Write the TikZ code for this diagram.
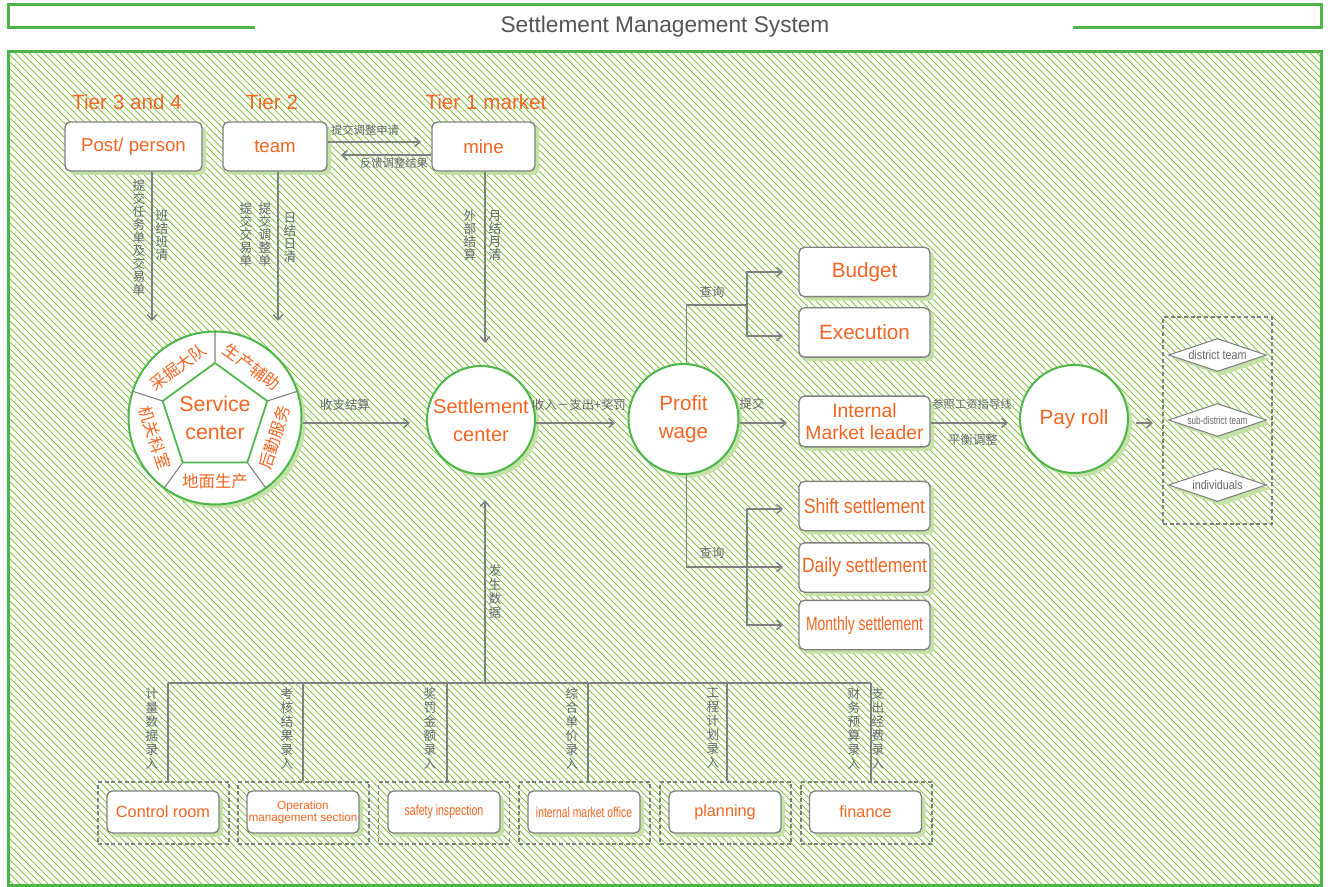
\documentclass[tikz,border=0pt]{standalone}
\usepackage{fontspec}
\setmainfont{Liberation Sans}
\newfontfamily\narrow[FakeStretch=0.85]{Liberation Sans}
\newfontfamily\condfont[FakeStretch=0.72]{Liberation Sans}
\newfontfamily\cjk{Noto Sans CJK SC}
\usetikzlibrary{arrows.meta,shapes.geometric,shadows,calc}
\definecolor{sgreen}{RGB}{76,183,72}
\definecolor{hgreen}{RGB}{136,196,66}
\definecolor{shgreen}{RGB}{196,226,168}
\definecolor{sorange}{RGB}{242,101,34}
\definecolor{sgray}{RGB}{128,128,128}
\definecolor{tgray}{RGB}{105,105,105}
\definecolor{ttlgray}{RGB}{85,85,85}
\tikzset{
  gshadow/.style={drop shadow={shadow xshift=3pt,shadow yshift=-3pt,fill=shgreen,opacity=1}},
  box/.style={draw=sgray,line width=1pt,fill=white,rounded corners=4pt,text=sorange,
    align=center,inner sep=1pt,gshadow,font=\fontsize{14}{16}\selectfont},
  rbox/.style={box,minimum width=98.25pt,minimum height=37pt},
  bbox/.style={box,minimum width=84pt,minimum height=31.5pt,font=\fontsize{12.2}{14}\selectfont},
  dbox/.style={draw=sgray,line width=0.8pt,dash pattern=on 3pt off 2pt,minimum width=98.25pt,minimum height=46.5pt},
  circ/.style={circle,draw=sgreen,line width=1.5pt,fill=white,text=sorange,align=center,
    inner sep=0pt,gshadow,font=\fontsize{15.5}{21}\selectfont},
  dia/.style={diamond,aspect=3,draw=sgray,line width=0.8pt,fill=white,inner sep=0pt,
    minimum width=73.5pt,minimum height=24.75pt,text=tgray,gshadow},
  tier/.style={text=sorange,font=\fontsize{15.5}{18}\selectfont,inner sep=0pt},
  lab/.style={text=tgray,font=\cjk\fontsize{9.3}{10}\selectfont,inner sep=1pt},
  slab/.style={lab,font=\cjk\fontsize{8.5}{10}\selectfont},
  vlab/.style={text=tgray,font=\cjk\fontsize{9.5}{9.75}\selectfont,inner sep=0pt,align=center,anchor=north},
  vlabb/.style={vlab,font=\cjk\fontsize{9.5}{10.5}\selectfont},
  seg/.style={text=sorange,font=\cjk\fontsize{12.3}{14}\selectfont,inner sep=0pt},
  arr/.style={draw=sgray,line width=1.1pt,-{Straight Barb[length=4pt,width=7pt]}},
  gl/.style={draw=sgray,line width=1.1pt},
}
\begin{document}
\begin{tikzpicture}[x=0.75pt,y=-0.75pt]
\useasboundingbox (0,0) rectangle (1330,887);
% header
\draw[sgreen,line width=2.25pt] (255,28) -- (8,28) -- (8,5) -- (1321,5) -- (1321,28) -- (1073,28);
\node[text=ttlgray,font=\fontsize{17}{20}\selectfont] (ttl) at (665,27) {Settlement Management System};
% hatched main area
\begin{scope}
\clip (8,52) rectangle (1321,885);
\foreach \i in {0,...,308} {
  \draw[hgreen,line width=0.75pt] ({-826+7*\i},52) -- ++(833,833);
}
\end{scope}
\draw[sgreen,line width=2.25pt] (8,52) rectangle (1321,885);

% tier labels
\node[tier] (t34) at (127,102) {Tier 3 and 4};
\node[tier] (t2) at (272,102) {Tier 2};
\node[tier] (t1) at (486,102) {Tier 1 market};

% top boxes
\node[box,minimum width=102.75pt,minimum height=36.75pt] (post) at (133.5,146.5) {Post/ person};
\node[box,minimum width=78pt,minimum height=36.75pt] (team) at (275,146.5) {team};
\node[box,minimum width=77.25pt,minimum height=36.75pt] (mine) at (483.5,146.5) {mine};

% team <-> mine
\coordinate (a4) at (421,142);
\coordinate (a5) at (341,155);
\draw[arr] (team.east |- a4) -- (a4);
\draw[arr] (mine.west |- a5) -- (a5);
\node[slab] (l1) at (365,130) {提交调整申请};
\node[slab] (l2) at (394,163) {反馈调整结果};

% vertical arrows down
\coordinate (a1) at (152,321);
\coordinate (a2) at (278,321);
\coordinate (a3) at (485,343);
\draw[arr] (post.south -| a1) -- (a1);
\draw[arr] (team.south -| a2) -- (a2);
\draw[arr] (mine.south -| a3) -- (a3);
\node[vlab] (v1) at (139,180) {提\\交\\任\\务\\单\\及\\交\\易\\单};
\node[vlab] (v2) at (162,210) {班\\结\\班\\清};
\node[vlab] (v3) at (246,203) {提\\交\\交\\易\\单};
\node[vlab] (v4) at (265,203) {提\\交\\调\\整\\单};
\node[vlab] (v5) at (290,212) {日\\结\\日\\清};
\node[vlab] (v6) at (470,210) {外\\部\\结\\算};
\node[vlab] (v7) at (495,210) {月\\结\\月\\清};

% service center
\node[circ,minimum size=129.75pt,font=\fontsize{16}{21}\selectfont] (svc) at (215,418) {Service\\center};
\draw[sgray,line width=0.8pt] (215,363) -- (215,331.5) (267.3,401) -- (297.3,391.3)
  (247.3,462.5) -- (265.8,488) (182.7,462.5) -- (164.2,488) (162.7,401) -- (132.7,391.3);
\draw[sgreen,line width=1.3pt,line join=round] (215,363) -- (267.3,401) -- (247.3,462.5) -- (182.7,462.5) -- (162.7,401) -- cycle;
\node[seg,rotate=36] (g1) at (178,367) {采掘大队};
\node[seg,rotate=-36] (g2) at (252,367) {生产辅助};
\node[seg,rotate=72] (g3) at (275,437.5) {后勤服务};
\node[seg,rotate=-72] (g4) at (155,437.5) {机关科室};
\node[seg] (g5) at (215,481) {地面生产};

% settlement and profit
\node[circ,minimum size=81pt,font=\fontsize{15}{21}\selectfont] (stl) at (481,420) {Settlement\\center};
\node[circ,minimum size=82.5pt] (pft) at (683.5,419) {Profit\\wage};
\node[circ,minimum size=81pt] (pay) at (1074,419) {Pay roll};

\coordinate (c1) at (410,423);
\coordinate (c2) at (615,423);
\draw[arr] (svc.east |- c1) -- (c1);
\draw[arr] (stl.east |- c2) -- (c2);
\node[lab] (s1) at (345,405) {收支结算};
\node[lab] (s2) at (579,405) {收入－支出+奖罚};

% right boxes
\node[rbox,font=\fontsize{15.5}{18}\selectfont] (bud) at (864.5,272) {Budget};
\node[rbox,font=\fontsize{15.5}{18}\selectfont] (exe) at (864.5,332.5) {Execution};
\node[rbox,minimum height=38pt,font=\fontsize{14.5}{17}\selectfont] (iml) at (864.5,421.5) {Internal\\Market leader};
\node[rbox,font=\narrow\fontsize{15.5}{18}\selectfont] (shf) at (864.5,506) {Shift settlement};
\node[rbox,font=\narrow\fontsize{15.5}{18}\selectfont] (dly) at (864.5,567.5) {Daily settlement};
\node[rbox,font=\condfont\fontsize{14.5}{16}\selectfont] (mth) at (864.5,625) {Monthly settlement};

\coordinate (j1) at (747,305);
\coordinate (t1) at (783,272);
\coordinate (t2) at (783,336);
\draw[gl] ([xshift=2.25pt]pft.north) |- (j1);
\draw[arr] (j1) |- (t1);
\draw[arr] (j1) |- (t2);
\coordinate (j2) at (747,567);
\coordinate (t3) at (783,509);
\coordinate (t4) at (783,567);
\coordinate (t5) at (783,625);
\draw[arr] ([xshift=2.25pt]pft.south) |- (t4);
\draw[arr] (j2) |- (t3);
\draw[arr] (j2) |- (t5);
\node[lab] (q1) at (712,292) {查询};
\node[lab] (q2) at (712,553) {查询};

\coordinate (c3) at (787,423);
\draw[arr] (pft.east |- c3) -- (c3);
\node[lab] (s3) at (752,404) {提交};
\coordinate (c4) at (1008,423);
\draw[arr] (iml.east |- c4) -- (c4);
\node[slab] (s4) at (972,404) {参照工资指导线};
\node[lab] (s5) at (973,440) {平衡调整};

% pay roll group
\node[dbox,minimum width=81.75pt,minimum height=155.25pt] (grp) at (1217.5,420.5) {};
\coordinate (c6) at (1153,423);
\draw[arr] ([xshift=5pt,yshift=-3pt]pay.east) -- (c6);
\node[dia,font=\narrow\fontsize{9.5}{11}\selectfont] (dt) at (1217.5,355) {district team};
\node[dia,font=\condfont\fontsize{8.5}{10}\selectfont] (sdt) at (1217.5,420) {sub-district team};
\node[dia,font=\narrow\fontsize{9.5}{11}\selectfont] (ind) at (1217.5,485) {individuals};

% bottom
\coordinate (bus) at (485,683);
\coordinate (a6) at (485,500);
\draw[arr] (bus) -- (a6);
\node[vlabb] (v8) at (495,565) {发\\生\\数\\据};

\node[dbox] (d1) at (163.5,813) {};
\node[dbox] (d2) at (303.5,813) {};
\node[dbox] (d3) at (444,813) {};
\node[dbox] (d4) at (584.5,813) {};
\node[dbox] (d5) at (725.5,813) {};
\node[dbox] (d6) at (866.5,813) {};
\node[bbox] (b1) at (163,812) {Control room};
\node[bbox,font=\fontsize{8.8}{9}\selectfont] (b2) at (303,812) {Operation\\management section};
\node[bbox,font=\condfont\fontsize{11}{12}\selectfont] (b3) at (444,812) {safety inspection};
\node[bbox,font=\condfont\fontsize{10.8}{12}\selectfont] (b4) at (584,812) {internal market office};
\node[bbox] (b5) at (725,812) {planning};
\node[bbox] (b6) at (865.5,812) {finance};

\coordinate (k1) at (168,683);
\coordinate (k2) at (303,683);
\coordinate (k3) at (447,683);
\coordinate (k4) at (588,683);
\coordinate (k5) at (727,683);
\coordinate (k6) at (871,683);
\draw[gl] (k1) -- (k6);
\draw[gl] (k1) -- (k1 |- d1.north);
\draw[gl] (k2) -- (k2 |- d2.north);
\draw[gl] (k3) -- (k3 |- d3.north);
\draw[gl] (k4) -- (k4 |- d4.north);
\draw[gl] (k5) -- (k5 |- d5.north);
\draw[gl] (k6) -- (k6 |- d6.north);
\node[vlabb] (w1) at (152,688) {计\\量\\数\\据\\录\\入};
\node[vlabb] (w2) at (287,688) {考\\核\\结\\果\\录\\入};
\node[vlabb] (w3) at (430,688) {奖\\罚\\金\\额\\录\\入};
\node[vlabb] (w4) at (572,688) {综\\合\\单\\价\\录\\入};
\node[vlabb] (w5) at (713,688) {工\\程\\计\\划\\录\\入};
\node[vlabb] (w6) at (854,688) {财\\务\\预\\算\\录\\入};
\node[vlabb] (w7) at (878,688) {支\\出\\经\\费\\录\\入};
\end{tikzpicture}
\end{document}
